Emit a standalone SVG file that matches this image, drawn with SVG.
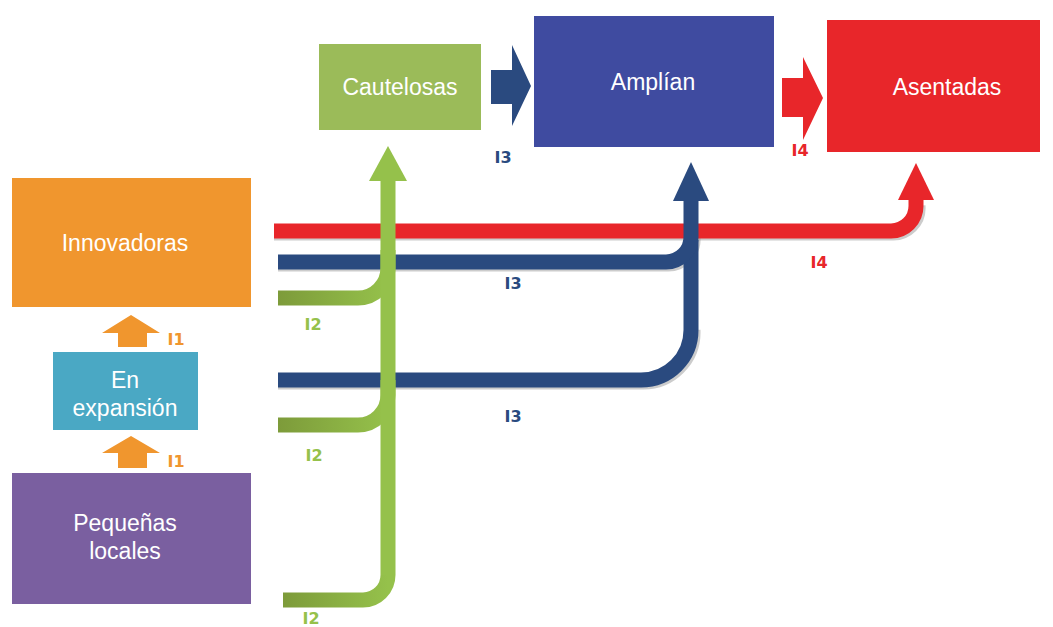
<svg xmlns="http://www.w3.org/2000/svg" width="1053" height="627" viewBox="0 0 1053 627">
<defs>
<style>
.box{stroke:none}
.bt{font-family:"Liberation Sans",Arial,sans-serif;font-size:23px;fill:#fff;text-anchor:middle}
.lb{font-family:"DejaVu Sans","Liberation Sans",Arial,sans-serif;font-size:16px;font-weight:bold;text-anchor:middle}
.c{fill:none;stroke-width:15}
.sh{fill:none;stroke:#9a9a9a;stroke-width:15;opacity:0.5}
</style>
<linearGradient id="gg" x1="0" y1="0" x2="1" y2="0">
<stop offset="0" stop-color="#7d9b3a"/>
<stop offset="1" stop-color="#95c14b"/>
</linearGradient>
</defs>
<rect width="1053" height="627" fill="#fff"/>

<g id="cautelosas">
<rect class="box" x="319" y="44" width="162" height="86" fill="#9bbb59"/>
<text class="bt" x="400" y="95">Cautelosas</text>
</g>
<g id="amplian">
<rect class="box" x="534" y="16" width="240" height="131" fill="#3f4ba0"/>
<text class="bt" x="653" y="90">Amplían</text>
</g>
<g id="asentadas">
<rect class="box" x="827" y="20" width="213" height="132" fill="#e8262a"/>
<text class="bt" x="947" y="95">Asentadas</text>
</g>
<g id="innovadoras">
<rect class="box" x="12" y="178" width="239" height="129" fill="#f0962e"/>
<text class="bt" x="125" y="251">Innovadoras</text>
</g>
<g id="en-expansion">
<rect class="box" x="53" y="352" width="145" height="78" fill="#4aa8c4"/>
<text class="bt" x="125" y="388">En</text>
<text class="bt" x="125" y="416">expansión</text>
</g>
<g id="pequenas-locales">
<rect class="box" x="12" y="473" width="239" height="131" fill="#7a5fa0"/>
<text class="bt" x="125" y="531">Pequeñas</text>
<text class="bt" x="125" y="559">locales</text>
</g>

<g id="connectors">
<!-- block arrows -->
<polygon points="491,70 512,70 512,45 531,86 512,126 512,104 491,104" fill="#2a4a7f"/>
<polygon points="782,78 803,78 803,57 823,98 803,140 803,117 782,117" fill="#e8262a"/>
<polygon points="118,347 147,347 147,333 160,333 131,315 102,333 118,333" fill="#f0962e"/>
<polygon points="118,468 147,468 147,453 160,453 131,436 102,453 118,453" fill="#f0962e"/>

<!-- shadows -->
<path class="sh" d="M274,233 H891 A25,25 0 0 0 918,206"/>
<path class="sh" d="M278,264 H666 A25,25 0 0 0 693,237"/>
<path class="sh" d="M278,382 H641 A50,50 0 0 0 693,330"/>

<!-- red I4 -->
<path class="c" stroke="#e8262a" d="M274,231 H891 A25,25 0 0 0 916,206 V198"/>
<polygon points="898,200 934,200 916,163" fill="#e8262a"/>

<!-- blue I3 -->
<path class="c" stroke="#2a4a7f" d="M278,380 H641 A50,50 0 0 0 691,330 V240"/>
<path class="c" stroke="#2a4a7f" d="M278,262 H666 A25,25 0 0 0 691,237 V199"/>
<polygon points="673,201 709,201 691,162" fill="#2a4a7f"/>

<!-- green I2 -->
<path class="c" stroke="url(#gg)" d="M278,298 H358 A30,30 0 0 0 388,268 V250"/>
<path class="c" stroke="url(#gg)" d="M278,425 H358 A30,30 0 0 0 388,395 V380"/>
<path class="c" stroke="#95c14b" stroke-width="16" d="M388,575 V179"/>
<path class="c" stroke="url(#gg)" d="M283,600 H363 A25,25 0 0 0 388,575"/>
<polygon points="369,181 407,181 388,146" fill="#95c14b"/>
</g>

<g id="labels">
<text class="lb" x="176" y="345" fill="#f0962e">I1</text>
<text class="lb" x="176" y="467" fill="#f0962e">I1</text>
<text class="lb" x="313" y="330" fill="#95c14b">I2</text>
<text class="lb" x="314" y="461" fill="#95c14b">I2</text>
<text class="lb" x="311" y="624" fill="#95c14b">I2</text>
<text class="lb" x="503" y="163" fill="#2a4a7f">I3</text>
<text class="lb" x="513" y="289" fill="#2a4a7f">I3</text>
<text class="lb" x="513" y="422" fill="#2a4a7f">I3</text>
<text class="lb" x="800" y="156" fill="#e8262a">I4</text>
<text class="lb" x="819" y="268" fill="#e8262a">I4</text>
</g>
</svg>
